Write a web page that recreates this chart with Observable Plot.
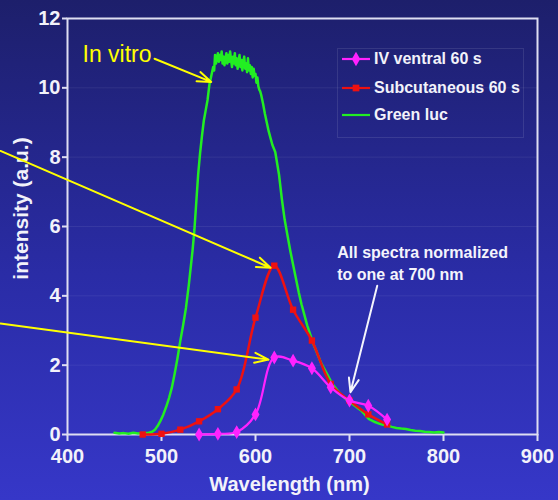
<!DOCTYPE html>
<html>
<head>
<meta charset="utf-8">
<script src="https://cdn.jsdelivr.net/npm/d3@7"></script>
<script src="https://cdn.jsdelivr.net/npm/@observablehq/plot@0.6"></script>
<style>
  html, body { margin: 0; padding: 0; }
  #wrap { position: relative; width: 558px; height: 500px; overflow: hidden;
          background: linear-gradient(to bottom, #1d1f6b 0%, #2a2ca6 55%, #3637c8 100%);
          font-family: "Liberation Sans", Arial, sans-serif; }
  #legend { position: absolute; left: 337px; top: 48px; }
</style>
</head>
<body>
<div id="wrap"></div>
<script>
// ---- data ----
const xTicks = [400, 500, 600, 700, 800, 900];
const yTicks = [0, 2, 4, 6, 8, 10, 12];
const seriesNames = ["IV ventral 60 s", "Subcutaneous 60 s", "Green luc"];

const ivNm  = [540, 560, 580, 600, 620, 640, 660, 680, 700, 720, 740];
const ivVal = [0.00, 0.02, 0.07, 0.58, 2.22, 2.13, 1.91, 1.36, 0.98, 0.83, 0.43];

const subNm  = [480, 500, 520, 540, 560, 580, 600, 620, 640, 660, 680, 700, 720, 740];
const subVal = [0.00, 0.02, 0.14, 0.38, 0.73, 1.30, 3.37, 4.87, 3.60, 2.71, 1.46, 0.98, 0.58, 0.29];

const greenNm = [450,455,460,465,470,475,480,485,490,493,496,499,502,505,508,511,514,517,520,523,526,529,531,533,535,537,539,541,543,545,547,549,551,553,555,556,557,558,559,560,561,562,563,564,565,566,567,568,569,570,571,572,573,574,575,576,577,578,579,580,581,582,583,584,585,586,587,588,589,590,591,592,593,594,595,596,597,598,599,600,601,602,603,604,605,606,608,610,612,614,616,618,621,625,628,631,634,637,640,643,646,649,652,655,658,661,664,667,670,673,676,679,682,685,688,691,694,697,700,703,706,709,712,715,718,721,724,727,730,733,736,740,745,750,755,760,765,770,775,780,785,790,795,800];
const greenVal = [0.05,0.03,0.04,0.02,0.05,0.03,0.04,0.04,0.08,0.14,0.25,0.40,0.58,0.80,1.05,1.35,1.75,2.20,2.70,3.15,3.65,4.30,4.80,5.30,5.90,6.70,7.50,8.10,8.60,9.05,9.35,9.65,10.10,10.35,10.60,10.50,10.95,10.70,10.85,11.00,10.75,10.95,10.80,11.05,10.70,10.90,10.65,10.85,11.00,10.70,10.95,10.75,11.05,10.80,10.60,10.90,10.70,11.00,10.65,10.85,10.55,10.80,10.95,10.60,10.80,10.50,10.75,10.90,10.55,10.70,10.45,10.85,10.50,10.65,10.40,10.60,10.30,10.55,10.35,10.40,10.15,10.30,10.05,9.95,9.90,9.80,9.55,9.25,9.00,8.75,8.55,8.35,8.15,7.50,6.80,6.20,5.75,5.30,4.90,4.50,4.10,3.75,3.45,3.15,2.90,2.65,2.45,2.25,2.05,1.90,1.75,1.60,1.45,1.35,1.25,1.15,1.08,1.00,0.95,0.88,0.82,0.76,0.70,0.62,0.52,0.44,0.40,0.36,0.33,0.30,0.28,0.26,0.22,0.19,0.17,0.16,0.13,0.11,0.10,0.08,0.07,0.06,0.07,0.06];

// annotations (data units)
const yellowArrows = [
  {x1: 492.6, y1: 10.84, x2: 552.9, y2: 10.17},
  {x1: 328.7, y1: 8.18,  x2: 616.0, y2: 4.81},
  {x1: 328.7, y1: 3.20,  x2: 613.8, y2: 2.16}
];
const whiteArrows = [{x1: 729.5, y1: 4.29, x2: 701, y2: 1.22}];
const inVitroLabel = [{x: 416, y: 10.95, text: "In vitro"}];
const noteLabel = [{x: 687, y: 5.54, text: "All spectra normalized\nto one at 700 nm"}];
const xLabel = "Wavelength (nm)";
const yLabel = "intensity (a.u.)";

// ---- tables ----
const iv = ivNm.map((d, i) => ({nm: d, v: ivVal[i]}));
const sub = subNm.map((d, i) => ({nm: d, v: subVal[i]}));
const green = greenNm.map((d, i) => ({nm: d, v: greenVal[i]}));

const colors = ["#ff22ff", "#ee1111", "#22ee22"];
const axisColor = "#dedef2";

const chart = Plot.plot({
  width: 558, height: 500,
  marginLeft: 67, marginRight: 21, marginTop: 18, marginBottom: 66,
  style: {background: "transparent", color: "#f2f2fa", fontFamily: "Liberation Sans, Arial, sans-serif", fontWeight: "bold", overflow: "visible"},
  x: {domain: [400, 900]},
  y: {domain: [0, 12]},
  marks: [
    Plot.gridY(yTicks.slice(1, -1), {stroke: "#ffffff", strokeOpacity: 0.07, strokeWidth: 1}),
    Plot.frame({stroke: axisColor, strokeWidth: 2}),
    Plot.axisX(xTicks, {tickSize: 7, tickPadding: 7, fontSize: 20, label: null, stroke: axisColor, strokeWidth: 2}),
    Plot.axisY(yTicks, {tickSize: 5, tickPadding: 2, fontSize: 20, label: null, stroke: axisColor, strokeWidth: 2}),
    Plot.text([xLabel], {frameAnchor: "bottom", dy: 56, dx: -13, fontSize: 20, fill: "#f2f2fa"}),
    Plot.text([yLabel], {frameAnchor: "left", textAnchor: "middle", rotate: -90, dx: -46, dy: -18, fontSize: 21, fill: "#f2f2fa"}),
    Plot.line(green, {x: "nm", y: "v", stroke: colors[2], strokeWidth: 2.5}),
    Plot.line(sub, {x: "nm", y: "v", stroke: colors[1], strokeWidth: 2.5, curve: "catmull-rom"}),
    Plot.dot(sub, {x: "nm", y: "v", symbol: "square", fill: colors[1], r: 3.6}),
    Plot.line(iv, {x: "nm", y: "v", stroke: colors[0], strokeWidth: 2.2, curve: "catmull-rom"}),
    Plot.dot(iv, {x: "nm", y: "v", symbol: "diamond", fill: colors[0], r: 4.2}),
    Plot.arrow(yellowArrows, {x1: "x1", y1: "y1", x2: "x2", y2: "y2", stroke: "#ffff00", strokeWidth: 2, headLength: 11, headAngle: 40}),
    Plot.arrow(whiteArrows, {x1: "x1", y1: "y1", x2: "x2", y2: "y2", stroke: "#f4f4fc", strokeWidth: 2, headLength: 11, headAngle: 40}),
    Plot.text(inVitroLabel, {x: "x", y: "y", text: "text", textAnchor: "start", fill: "#ffff00", fontSize: 23, fontWeight: "normal"}),
    Plot.text(noteLabel, {x: "x", y: "y", text: "text", textAnchor: "start", lineAnchor: "top", lineHeight: 1.375, fill: "#f4f4fc", fontSize: 16})
  ]
});

const wrap = document.getElementById("wrap");
wrap.appendChild(chart);

// legend
const legend = d3.select(wrap).append("svg").attr("id", "legend")
  .attr("width", 187).attr("height", 90);
legend.append("rect").attr("x", 0.5).attr("y", 0.5).attr("width", 186).attr("height", 89)
  .attr("fill", "none").attr("stroke", "#ffffff").attr("stroke-opacity", 0.1);
const rowY = [11, 40, 67];
const symbols = [d3.symbolDiamond, d3.symbolSquare, null];
seriesNames.forEach((name, i) => {
  const g = legend.append("g");
  g.append("line").attr("x1", 5).attr("x2", 33).attr("y1", rowY[i]).attr("y2", rowY[i])
    .attr("stroke", colors[i]).attr("stroke-width", 2.2);
  if (symbols[i]) {
    g.append("path").attr("d", d3.symbol(symbols[i], i === 0 ? 60 : 45)())
      .attr("transform", `translate(19,${rowY[i]})`).attr("fill", colors[i]);
  }
  g.append("text").attr("x", 37).attr("y", rowY[i] + 5)
    .attr("fill", "#f2f2fa").attr("font-size", 16).attr("font-weight", "bold")
    .attr("font-family", "Liberation Sans, Arial, sans-serif").text(name);
});
</script>
</body>
</html>
